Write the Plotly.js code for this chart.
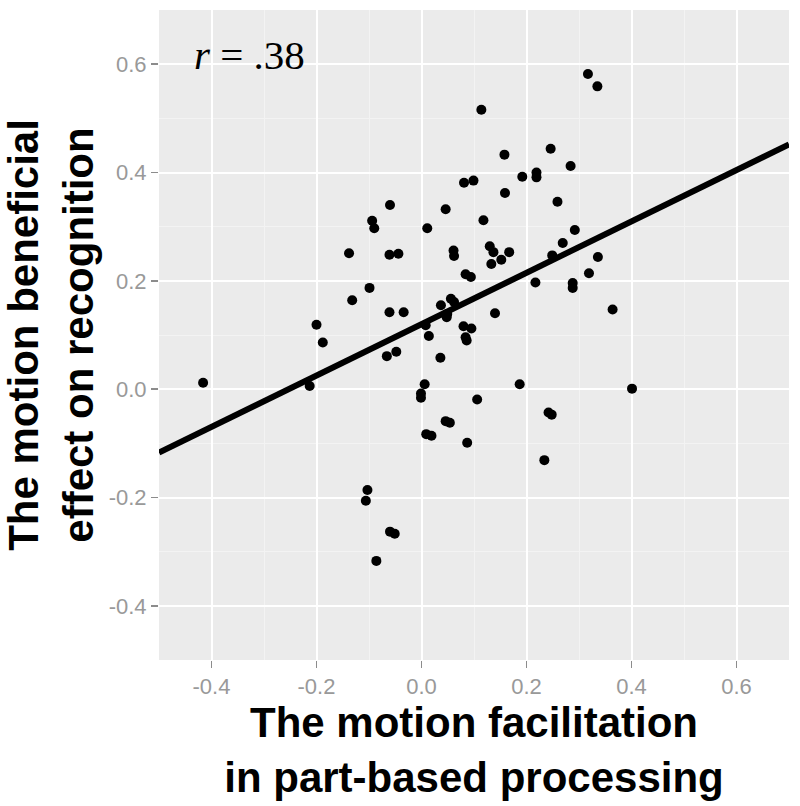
<!DOCTYPE html>
<html>
<head>
<meta charset="utf-8">
<script src="https://cdn.plot.ly/plotly-3.0.1.min.js"></script>
<style>
  html, body { margin: 0; padding: 0; background: #fff; }
  #chart { width: 800px; height: 806px; }
</style>
</head>
<body>
<div id="chart"></div>
<script>
// part-based facilitation (x) vs motion benefit on recognition (y)
const facilitation = [
  -0.416, -0.213, -0.200, -0.188, -0.138, -0.132, -0.099, -0.094, -0.090, -0.103,
  -0.106, -0.086, -0.060, -0.051, -0.066, -0.048, -0.061, -0.034, -0.060, -0.061,
  -0.044, 0.011, 0.046, 0.081, 0.099, 0.114, 0.118, 0.061, 0.062, 0.084,
  0.094, 0.037, 0.056, 0.062, 0.049, 0.048, 0.008, 0.014, 0.080, 0.095,
  0.084, 0.086, 0.036, 0.006, -0.001, -0.001, 0.106, 0.046, 0.054, 0.009,
  0.019, 0.087, 0.140, 0.133, 0.152, 0.130, 0.137, 0.167, 0.159, 0.158,
  0.192, 0.219, 0.219, 0.246, 0.284, 0.259, 0.292, 0.269, 0.249, 0.336,
  0.217, 0.319, 0.288, 0.288, 0.364, 0.317, 0.335, 0.187, 0.401, 0.242,
  0.248, 0.234
];
const recognition = [
  0.012, 0.006, 0.119, 0.086, 0.251, 0.164, 0.187, 0.311, 0.297, -0.186,
  -0.206, -0.317, -0.263, -0.267, 0.061, 0.069, 0.142, 0.142, 0.340, 0.248,
  0.250, 0.297, 0.332, 0.381, 0.385, 0.516, 0.312, 0.256, 0.246, 0.212,
  0.207, 0.155, 0.167, 0.161, 0.139, 0.133, 0.118, 0.098, 0.116, 0.112,
  0.096, 0.090, 0.058, 0.009, -0.008, -0.016, -0.019, -0.059, -0.062, -0.083,
  -0.086, -0.099, 0.140, 0.231, 0.239, 0.264, 0.253, 0.253, 0.362, 0.433,
  0.392, 0.400, 0.391, 0.444, 0.412, 0.346, 0.294, 0.270, 0.247, 0.244,
  0.197, 0.214, 0.196, 0.187, 0.147, 0.582, 0.559, 0.009, 0.001, -0.043,
  -0.047, -0.131
];

// fitted line, read at the two panel edges
const fitX = [-0.5, 0.7];
const fitY = [-0.117, 0.452];

const tickVals = [-0.4, -0.2, 0, 0.2, 0.4, 0.6];
const tickText = ['-0.4', '-0.2', '0.0', '0.2', '0.4', '0.6'];

const corrLabel = '<i>r</i> = .38';

const points = {
    x: facilitation,
    y: recognition,
    mode: 'markers',
    type: 'scatter',
    marker: { color: '#000', size: 10, line: { width: 0 } },
    hoverinfo: 'x+y'
};

const fit = {
    x: fitX,
    y: fitY,
    mode: 'lines',
    type: 'scatter',
    line: { color: '#000', width: 6 },
    hoverinfo: 'skip'
};

const axisBase = {
    tickvals: tickVals,
    ticktext: tickText,
    showgrid: true,
    gridcolor: '#ffffff',
    gridwidth: 2,
    zeroline: false,
    showline: false,
    ticks: 'outside',
    ticklen: 7,
    tickwidth: 1.5,
    tickcolor: '#8c8c8c',
    tickfont: { family: 'Liberation Sans, Arial, sans-serif', size: 22, color: '#999999' },
    minor: { dtick: 0.1, tick0: 0, showgrid: true, gridcolor: '#f3f3f3', gridwidth: 1, ticks: '' }
};

const titleFont = { family: 'Liberation Sans, Arial, sans-serif', size: 42, color: '#000', weight: 'bold' };

const layout = {
    width: 800,
    height: 806,
    margin: { l: 159, r: 11, t: 10, b: 146 },
    paper_bgcolor: '#ffffff',
    plot_bgcolor: '#ebebeb',
    showlegend: false,
    xaxis: Object.assign({}, axisBase, {
        range: [-0.5, 0.7],
        title: { text: '<b>The motion facilitation<br>in part-based processing</b>', font: titleFont, standoff: 4 }
    }),
    yaxis: Object.assign({}, axisBase, {
        range: [-0.5, 0.7],
        title: { text: '<b>The motion beneficial<br>effect on recognition</b>', font: titleFont, standoff: 6 }
    }),
    annotations: [{
        x: -0.437, y: 0.617,
        xref: 'x', yref: 'y',
        xanchor: 'left', yanchor: 'middle',
        text: corrLabel,
        showarrow: false,
        font: { family: 'Liberation Serif, Times New Roman, serif', size: 41, color: '#000' }
    }]
};

Plotly.newPlot('chart', [points, fit], layout, { displayModeBar: false, staticPlot: true });
</script>
</body>
</html>
